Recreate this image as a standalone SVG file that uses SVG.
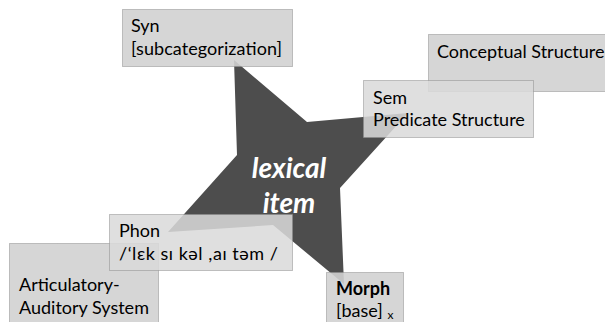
<svg xmlns="http://www.w3.org/2000/svg" width="605" height="322" viewBox="0 0 605 322">
<style>
.box{fill:#d2d2d2;fill-opacity:0.9;stroke:#8a8a8a;stroke-width:1;stroke-dasharray:1 1}
.lbox{fill:#dadada;fill-opacity:0.86;stroke:#8a8a8a;stroke-width:1;stroke-dasharray:1 1}
.t{font-family:Lato,"Liberation Sans",sans-serif;font-size:18px;fill:#000}
.b{font-weight:bold}
.star{fill:#4d4d4d}
.lex{font-family:Lato,"Liberation Sans",sans-serif;font-size:28px;font-weight:bold;font-style:italic;fill:#fff;text-anchor:middle}
</style>
<rect width="605" height="322" fill="#fff"/>
<g id="conceptual">
<rect class="box" x="428.5" y="34.5" width="180" height="57"/>
<text class="t" x="437" y="58">Conceptual Structure</text>
</g>
<g id="articulatory">
<rect class="box" x="9.5" y="243.5" width="149" height="85"/>
<text class="t" x="19" y="291">Articulatory-</text>
<text class="t" x="19" y="314">Auditory System</text>
</g>
<g id="lexical-item">
<polygon class="star" points="234,60 307,122 408,113 340,188 344,284 273,225 168,232 237,155"/>
<text class="lex" x="289" y="178">lexical</text>
<text class="lex" x="289" y="213">item</text>
</g>
<g id="syn">
<rect class="box" x="122.5" y="9.5" width="170" height="57"/>
<text class="t" x="131" y="32">Syn</text>
<text class="t" x="131" y="55" textLength="151">[subcategorization]</text>
</g>
<g id="sem">
<rect class="lbox" x="363.5" y="80.5" width="170" height="57"/>
<text class="t" x="373" y="104">Sem</text>
<text class="t" x="373" y="126">Predicate Structure</text>
</g>
<g id="phon">
<rect class="lbox" x="109.5" y="214.5" width="183" height="56"/>
<text class="t" x="119" y="237">Phon</text>
<text class="t" x="119" y="260" textLength="159">/‘lɛk sɪ kəl ,aɪ təm /</text>
</g>
<g id="morph">
<rect class="box" x="326.5" y="272.5" width="77" height="56"/>
<text class="t b" x="336" y="295">Morph</text>
<text class="t" x="336" y="317">[base] <tspan font-size="12" dy="2">x</tspan></text>
</g>
<g id="connectors"></g>
</svg>
